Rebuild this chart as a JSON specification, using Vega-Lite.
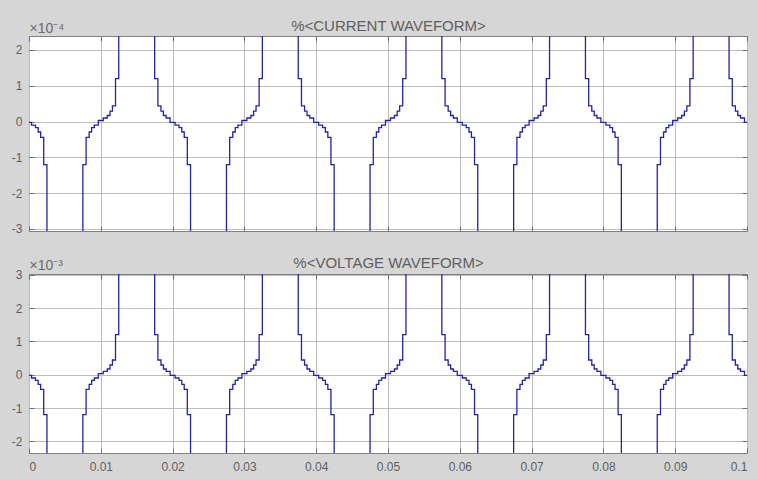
{
  "$schema": "https://vega.github.io/schema/vega-lite/v6.json",
  "background": "#d6d6d6",
  "padding": {"left": 10, "top": 17, "right": 10, "bottom": 6},
  "spacing": 18,
  "config": {
    "view": {"stroke": "#808080", "fill": "white"},
    "axis": {
      "labelFont": "Liberation Sans", "labelFontSize": 12, "labelColor": "#5f5f5f",
      "gridColor": "#bcbcbc", "gridOpacity": 1, "tickColor": "#6e6e6e", "domain": false,
      "titleFont": "Liberation Sans", "titleColor": "#6a6a6a", "titleFontWeight": "normal"
    }
  },
  "data": {"values": [
    {"t":0,"i":-2e-6,"v":-2e-5},
    {"t":0.00035,"i":-1e-5,"v":-1e-4},
    {"t":0.0009,"i":-1.7e-5,"v":-1.7e-4},
    {"t":0.00128,"i":-2.9e-5,"v":-2.9e-4},
    {"t":0.00162,"i":-4.4e-5,"v":-4.4e-4},
    {"t":0.00205,"i":-1.2e-4,"v":-1.2e-3},
    {"t":0.0025,"i":-9e-4,"v":-9e-3},
    {"t":0.0075,"i":-1.2e-4,"v":-1.2e-3},
    {"t":0.00795,"i":-4.4e-5,"v":-4.4e-4},
    {"t":0.00838,"i":-2.9e-5,"v":-2.9e-4},
    {"t":0.00872,"i":-1.7e-5,"v":-1.7e-4},
    {"t":0.0091,"i":-1e-5,"v":-1e-4},
    {"t":0.00965,"i":3e-6,"v":3e-5},
    {"t":0.01035,"i":1e-5,"v":1e-4},
    {"t":0.0109,"i":1.7e-5,"v":1.7e-4},
    {"t":0.01128,"i":2.9e-5,"v":2.9e-4},
    {"t":0.01162,"i":4.4e-5,"v":4.4e-4},
    {"t":0.01205,"i":1.2e-4,"v":1.2e-3},
    {"t":0.0125,"i":9e-4,"v":9e-3},
    {"t":0.0175,"i":1.2e-4,"v":1.2e-3},
    {"t":0.01795,"i":4.4e-5,"v":4.4e-4},
    {"t":0.01838,"i":2.9e-5,"v":2.9e-4},
    {"t":0.01872,"i":1.7e-5,"v":1.7e-4},
    {"t":0.0191,"i":1e-5,"v":1e-4},
    {"t":0.01965,"i":-2e-6,"v":-2e-5},
    {"t":0.02035,"i":-1e-5,"v":-1e-4},
    {"t":0.0209,"i":-1.7e-5,"v":-1.7e-4},
    {"t":0.02128,"i":-2.9e-5,"v":-2.9e-4},
    {"t":0.02162,"i":-4.4e-5,"v":-4.4e-4},
    {"t":0.02205,"i":-1.2e-4,"v":-1.2e-3},
    {"t":0.0225,"i":-9e-4,"v":-9e-3},
    {"t":0.0275,"i":-1.2e-4,"v":-1.2e-3},
    {"t":0.02795,"i":-4.4e-5,"v":-4.4e-4},
    {"t":0.02838,"i":-2.9e-5,"v":-2.9e-4},
    {"t":0.02872,"i":-1.7e-5,"v":-1.7e-4},
    {"t":0.0291,"i":-1e-5,"v":-1e-4},
    {"t":0.02965,"i":3e-6,"v":3e-5},
    {"t":0.03035,"i":1e-5,"v":1e-4},
    {"t":0.0309,"i":1.7e-5,"v":1.7e-4},
    {"t":0.03128,"i":2.9e-5,"v":2.9e-4},
    {"t":0.03162,"i":4.4e-5,"v":4.4e-4},
    {"t":0.03205,"i":1.2e-4,"v":1.2e-3},
    {"t":0.0325,"i":9e-4,"v":9e-3},
    {"t":0.0375,"i":1.2e-4,"v":1.2e-3},
    {"t":0.03795,"i":4.4e-5,"v":4.4e-4},
    {"t":0.03838,"i":2.9e-5,"v":2.9e-4},
    {"t":0.03872,"i":1.7e-5,"v":1.7e-4},
    {"t":0.0391,"i":1e-5,"v":1e-4},
    {"t":0.03965,"i":-2e-6,"v":-2e-5},
    {"t":0.04035,"i":-1e-5,"v":-1e-4},
    {"t":0.0409,"i":-1.7e-5,"v":-1.7e-4},
    {"t":0.04128,"i":-2.9e-5,"v":-2.9e-4},
    {"t":0.04162,"i":-4.4e-5,"v":-4.4e-4},
    {"t":0.04205,"i":-1.2e-4,"v":-1.2e-3},
    {"t":0.0425,"i":-9e-4,"v":-9e-3},
    {"t":0.0475,"i":-1.2e-4,"v":-1.2e-3},
    {"t":0.04795,"i":-4.4e-5,"v":-4.4e-4},
    {"t":0.04838,"i":-2.9e-5,"v":-2.9e-4},
    {"t":0.04872,"i":-1.7e-5,"v":-1.7e-4},
    {"t":0.0491,"i":-1e-5,"v":-1e-4},
    {"t":0.04965,"i":3e-6,"v":3e-5},
    {"t":0.05035,"i":1e-5,"v":1e-4},
    {"t":0.0509,"i":1.7e-5,"v":1.7e-4},
    {"t":0.05128,"i":2.9e-5,"v":2.9e-4},
    {"t":0.05162,"i":4.4e-5,"v":4.4e-4},
    {"t":0.05205,"i":1.2e-4,"v":1.2e-3},
    {"t":0.0525,"i":9e-4,"v":9e-3},
    {"t":0.0575,"i":1.2e-4,"v":1.2e-3},
    {"t":0.05795,"i":4.4e-5,"v":4.4e-4},
    {"t":0.05838,"i":2.9e-5,"v":2.9e-4},
    {"t":0.05872,"i":1.7e-5,"v":1.7e-4},
    {"t":0.0591,"i":1e-5,"v":1e-4},
    {"t":0.05965,"i":-2e-6,"v":-2e-5},
    {"t":0.06035,"i":-1e-5,"v":-1e-4},
    {"t":0.0609,"i":-1.7e-5,"v":-1.7e-4},
    {"t":0.06128,"i":-2.9e-5,"v":-2.9e-4},
    {"t":0.06162,"i":-4.4e-5,"v":-4.4e-4},
    {"t":0.06205,"i":-1.2e-4,"v":-1.2e-3},
    {"t":0.0625,"i":-9e-4,"v":-9e-3},
    {"t":0.0675,"i":-1.2e-4,"v":-1.2e-3},
    {"t":0.06795,"i":-4.4e-5,"v":-4.4e-4},
    {"t":0.06838,"i":-2.9e-5,"v":-2.9e-4},
    {"t":0.06872,"i":-1.7e-5,"v":-1.7e-4},
    {"t":0.0691,"i":-1e-5,"v":-1e-4},
    {"t":0.06965,"i":3e-6,"v":3e-5},
    {"t":0.07035,"i":1e-5,"v":1e-4},
    {"t":0.0709,"i":1.7e-5,"v":1.7e-4},
    {"t":0.07128,"i":2.9e-5,"v":2.9e-4},
    {"t":0.07162,"i":4.4e-5,"v":4.4e-4},
    {"t":0.07205,"i":1.2e-4,"v":1.2e-3},
    {"t":0.0725,"i":9e-4,"v":9e-3},
    {"t":0.0775,"i":1.2e-4,"v":1.2e-3},
    {"t":0.07795,"i":4.4e-5,"v":4.4e-4},
    {"t":0.07838,"i":2.9e-5,"v":2.9e-4},
    {"t":0.07872,"i":1.7e-5,"v":1.7e-4},
    {"t":0.0791,"i":1e-5,"v":1e-4},
    {"t":0.07965,"i":-2e-6,"v":-2e-5},
    {"t":0.08035,"i":-1e-5,"v":-1e-4},
    {"t":0.0809,"i":-1.7e-5,"v":-1.7e-4},
    {"t":0.08128,"i":-2.9e-5,"v":-2.9e-4},
    {"t":0.08162,"i":-4.4e-5,"v":-4.4e-4},
    {"t":0.08205,"i":-1.2e-4,"v":-1.2e-3},
    {"t":0.0825,"i":-9e-4,"v":-9e-3},
    {"t":0.0875,"i":-1.2e-4,"v":-1.2e-3},
    {"t":0.08795,"i":-4.4e-5,"v":-4.4e-4},
    {"t":0.08838,"i":-2.9e-5,"v":-2.9e-4},
    {"t":0.08872,"i":-1.7e-5,"v":-1.7e-4},
    {"t":0.0891,"i":-1e-5,"v":-1e-4},
    {"t":0.08965,"i":3e-6,"v":3e-5},
    {"t":0.09035,"i":1e-5,"v":1e-4},
    {"t":0.0909,"i":1.7e-5,"v":1.7e-4},
    {"t":0.09128,"i":2.9e-5,"v":2.9e-4},
    {"t":0.09162,"i":4.4e-5,"v":4.4e-4},
    {"t":0.09205,"i":1.2e-4,"v":1.2e-3},
    {"t":0.0925,"i":9e-4,"v":9e-3},
    {"t":0.0975,"i":1.2e-4,"v":1.2e-3},
    {"t":0.09795,"i":4.4e-5,"v":4.4e-4},
    {"t":0.09838,"i":2.9e-5,"v":2.9e-4},
    {"t":0.09872,"i":1.7e-5,"v":1.7e-4},
    {"t":0.0991,"i":1e-5,"v":1e-4},
    {"t":0.09965,"i":-2e-6,"v":-2e-5},
    {"t":0.1,"i":-2e-6,"v":-2e-5}
  ]},
  "vconcat": [
    {
      "width": 718,
      "height": 195,
      "layer": [
        {
          "mark": {"type": "line", "interpolate": "step-after", "clip": true, "color": "#2323a8", "strokeWidth": 1.3},
          "encoding": {
            "x": {"field": "t", "type": "quantitative",
              "scale": {"domain": [0, 0.1], "nice": false, "zero": false},
              "axis": {"orient": "bottom", "values": [0,0.01,0.02,0.03,0.04,0.05,0.06,0.07,0.08,0.09,0.1], "labels": false, "tickSize": -5, "grid": true, "title": null}},
            "y": {"field": "i", "type": "quantitative",
              "scale": {"domain": [-3.056e-4, 2.391e-4], "nice": false, "zero": false},
              "axis": {"orient": "left", "values": [-3e-4,-2e-4,-1e-4,0,1e-4,2e-4], "labelExpr": "round(datum.value*10000) + ''", "tickSize": -5, "labelPadding": 12, "grid": true,
                "title": "×10⁻⁴", "titleAngle": 0, "titleAlign": "left", "titleBaseline": "alphabetic", "titleX": 0, "titleY": -4, "titleFontSize": 14}}
          }
        },
        {
          "mark": {"type": "line", "interpolate": "step-after", "clip": true, "opacity": 0},
          "encoding": {
            "x": {"field": "t", "type": "quantitative",
              "axis": {"orient": "top", "values": [0,0.01,0.02,0.03,0.04,0.05,0.06,0.07,0.08,0.09,0.1], "labels": false, "tickSize": -5, "grid": false,
                "title": "%<CURRENT WAVEFORM>", "titleY": -6, "titleBaseline": "alphabetic", "titleFontSize": 15, "titleColor": "#5f5f5f"}},
            "y": {"field": "i", "type": "quantitative",
              "axis": {"orient": "right", "values": [-3e-4,-2e-4,-1e-4,0,1e-4,2e-4], "labels": false, "tickSize": -5, "grid": false, "title": null}}
          }
        }
      ],
      "resolve": {"axis": {"x": "independent", "y": "independent"}}
    },
    {
      "width": 718,
      "height": 179,
      "layer": [
        {
          "mark": {"type": "line", "interpolate": "step-after", "clip": true, "color": "#2323a8", "strokeWidth": 1.3},
          "encoding": {
            "x": {"field": "t", "type": "quantitative",
              "scale": {"domain": [0, 0.1], "nice": false, "zero": false},
              "axis": {"orient": "bottom", "values": [0,0.01,0.02,0.03,0.04,0.05,0.06,0.07,0.08,0.09,0.1], "labelExpr": "format(datum.value, '.2~f')", "tickSize": -5, "labelPadding": 13, "grid": true, "title": null}},
            "y": {"field": "v", "type": "quantitative",
              "scale": {"domain": [-2.35e-3, 3.02e-3], "nice": false, "zero": false},
              "axis": {"orient": "left", "values": [-2e-3,-1e-3,0,1e-3,2e-3,3e-3], "labelExpr": "round(datum.value*1000) + ''", "tickSize": -5, "labelPadding": 12, "grid": true,
                "title": "×10⁻³", "titleAngle": 0, "titleAlign": "left", "titleBaseline": "alphabetic", "titleX": 0, "titleY": -5, "titleFontSize": 14}}
          }
        },
        {
          "mark": {"type": "line", "interpolate": "step-after", "clip": true, "opacity": 0},
          "encoding": {
            "x": {"field": "t", "type": "quantitative",
              "axis": {"orient": "top", "values": [0,0.01,0.02,0.03,0.04,0.05,0.06,0.07,0.08,0.09,0.1], "labels": false, "tickSize": -5, "grid": false,
                "title": "%<VOLTAGE WAVEFORM>", "titleY": -7, "titleBaseline": "alphabetic", "titleFontSize": 15, "titleColor": "#5f5f5f"}},
            "y": {"field": "v", "type": "quantitative",
              "axis": {"orient": "right", "values": [-2e-3,-1e-3,0,1e-3,2e-3,3e-3], "labels": false, "tickSize": -5, "grid": false, "title": null}}
          }
        }
      ],
      "resolve": {"axis": {"x": "independent", "y": "independent"}}
    }
  ]
}
